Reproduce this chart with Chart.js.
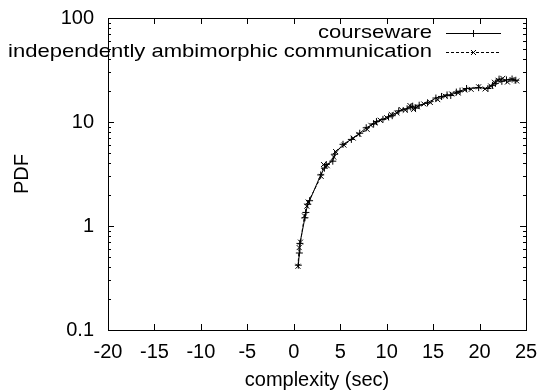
<!DOCTYPE html>
<html>
<head>
<meta charset="utf-8">
<script src="https://cdn.jsdelivr.net/npm/chart.js@4/dist/chart.umd.min.js"></script>
<style>
html,body{margin:0;padding:0;background:#fff;}
canvas{display:block;}
</style>
</head>
<body>
<canvas id="c" width="544" height="392"></canvas>
<script>
const seriesNames = ["courseware", "independently ambimorphic communication"];
const coursewareX = [0.49,0.6,0.66,1.2,1.3,1.5,1.7,2.9,3.3,3.5,4.2,4.4,5.3,6.2,7.1,7.8,8.6,8.9,9.6,10.2,10.6,11.3,12.2,12.6,12.8,13.1,13.5,14.4,15.3,15.9,16.5,16.9,17.5,17.9,18.6,19.9,20.9,21.4,21.7,22.1,22.4,22.9,23.5,23.9];
const coursewareY = [0.42,0.55,0.68,1.2,1.35,1.62,1.75,3.1,3.6,3.9,4.2,4.9,6.1,6.8,7.8,8.8,9.6,10.1,10.6,11.2,11.5,12.8,13.4,13.9,14.2,13.6,14.5,15.3,17,17.6,18.2,18.0,19.4,19.8,21,21.4,21.0,22.5,23.5,25.8,24.6,25.4,25.9,25.2];
const commX = [0.45,0.58,0.72,1.15,1.4,1.55,2.95,3.2,3.6,4.3,4.5,5.4,6.4,7.0,7.9,8.3,8.8,9.3,10.0,10.5,11.1,11.6,12.0,12.5,12.9,13.3,14.0,14.7,15.5,16.3,17.0,17.7,18.4,19.1,19.9,20.6,21.2,21.6,22.0,22.5,23.0,23.5,24.0];
const commY = [0.41,0.62,0.7,1.25,1.55,1.7,3.0,3.9,3.8,4.6,5.2,6.0,7.0,7.6,8.5,9.3,9.8,10.4,11.0,11.8,12.2,13.1,13.0,14.4,13.2,14.0,14.9,15.4,16.4,17.7,18.6,19.0,20.3,20.6,21.8,20.8,22.2,24.1,25.2,26.3,24.2,25.6,24.8];
const xTicks = [-20,-15,-10,-5,0,5,10,15,20,25];
const yTicks = [0.1,1,10,100];
const xTitle = "complexity (sec)";
const yTitle = "PDF";

const FONT = '"Liberation Sans", Arial, Helvetica, sans-serif';
const FS = 20;

function pts(xs, ys){ return xs.map((x,i)=>({x:x, y:ys[i]})); }

const framePlugin = {
  id: 'frame',
  afterDraw(chart){
    const {ctx, chartArea:a, scales} = chart;
    const xs = scales.x, ys = scales.y;
    ctx.save();
    ctx.strokeStyle = '#000';
    ctx.lineWidth = 1;
    ctx.strokeRect(Math.round(a.left)+0.5, Math.round(a.top)+0.5, Math.round(a.right-a.left), Math.round(a.bottom-a.top));
    ctx.beginPath();
    xTicks.forEach(v=>{
      const px = Math.round(xs.getPixelForValue(v))+0.5;
      ctx.moveTo(px, a.bottom); ctx.lineTo(px, a.bottom-6);
      ctx.moveTo(px, a.top); ctx.lineTo(px, a.top+6);
    });
    for (let d=-1; d<2; d++){
      for (let m=1; m<=9; m++){
        const v = m*Math.pow(10,d);
        const py = Math.round(ys.getPixelForValue(v))+0.5;
        const len = (m===1)?6:3;
        ctx.moveTo(a.left, py); ctx.lineTo(a.left+len, py);
        ctx.moveTo(a.right, py); ctx.lineTo(a.right-len, py);
      }
    }
    ctx.stroke();
    const rows = [
      {label: seriesNames[0], y: 33, dash: [], style: 'cross'},
      {label: seriesNames[1], y: 52, dash: [3,2], style: 'crossRot'}
    ];
    rows.forEach(r=>{
      ctx.save();
      ctx.font = '19px ' + FONT;
      ctx.fillStyle = '#000';
      ctx.textAlign = 'right';
      ctx.textBaseline = 'middle';
      ctx.translate(432, r.y);
      ctx.scale(1.16, 1);
      ctx.fillText(r.label, 0, 0);
      ctx.restore();
      ctx.beginPath();
      ctx.setLineDash(r.dash);
      ctx.moveTo(446, r.y+0.5); ctx.lineTo(501, r.y+0.5);
      ctx.stroke();
      ctx.setLineDash([]);
      Chart.helpers.drawPoint(ctx, {pointStyle: r.style, radius: 3.5, borderWidth: 1}, 473.5, r.y+0.5);
      ctx.stroke();
    });
    ctx.restore();
  }
};

new Chart(document.getElementById('c'), {
  type: 'scatter',
  data: {
    datasets: [
      {label: seriesNames[0], data: pts(coursewareX, coursewareY), showLine: true,
       borderColor: '#000', borderWidth: 1, backgroundColor: 'rgba(0,0,0,0)',
       pointStyle: 'cross', pointRadius: 3.5, pointBorderWidth: 1, pointBorderColor: '#000', tension: 0},
      {label: seriesNames[1], data: pts(commX, commY), showLine: true,
       borderColor: '#000', borderWidth: 1, borderDash: [3,2], backgroundColor: 'rgba(0,0,0,0)',
       pointStyle: 'crossRot', pointRadius: 3.5, pointBorderWidth: 1, pointBorderColor: '#000', tension: 0}
    ]
  },
  options: {
    responsive: false,
    animation: false,
    layout: {padding: {left: 0, top: 18, right: 18, bottom: 0}},
    plugins: {legend: {display: false}, tooltip: {enabled: false}},
    scales: {
      x: {
        type: 'linear', min: -20, max: 25,
        afterBuildTicks(s){ s.ticks = xTicks.map(v=>({value:v})); },
        afterFit(s){ s.height = 62; s.paddingLeft = 0; s.paddingRight = 0; },
        grid: {display: true, drawOnChartArea: false, drawTicks: false},
        border: {display: false},
        ticks: {color: '#000', padding: 10, maxRotation: 0, font: {family: FONT, size: FS}},
        title: {display: true, text: xTitle, color: '#000', padding: {top: 0, bottom: 0}, font: {family: FONT, size: FS}}
      },
      y: {
        type: 'logarithmic', min: 0.1, max: 100,
        afterBuildTicks(s){ s.ticks = yTicks.map(v=>({value:v})); },
        afterFit(s){ s.width = 108; s.paddingTop = 0; s.paddingBottom = 0; },
        grid: {display: true, drawOnChartArea: false, drawTicks: false},
        border: {display: false},
        ticks: {color: '#000', padding: 14, font: {family: FONT, size: FS},
          callback: (v)=> String(v)},
        title: {display: true, text: yTitle, color: '#000', padding: {top: 10, bottom: 0}, font: {family: FONT, size: FS}}
      }
    }
  },
  plugins: [framePlugin]
});
</script>
</body>
</html>
